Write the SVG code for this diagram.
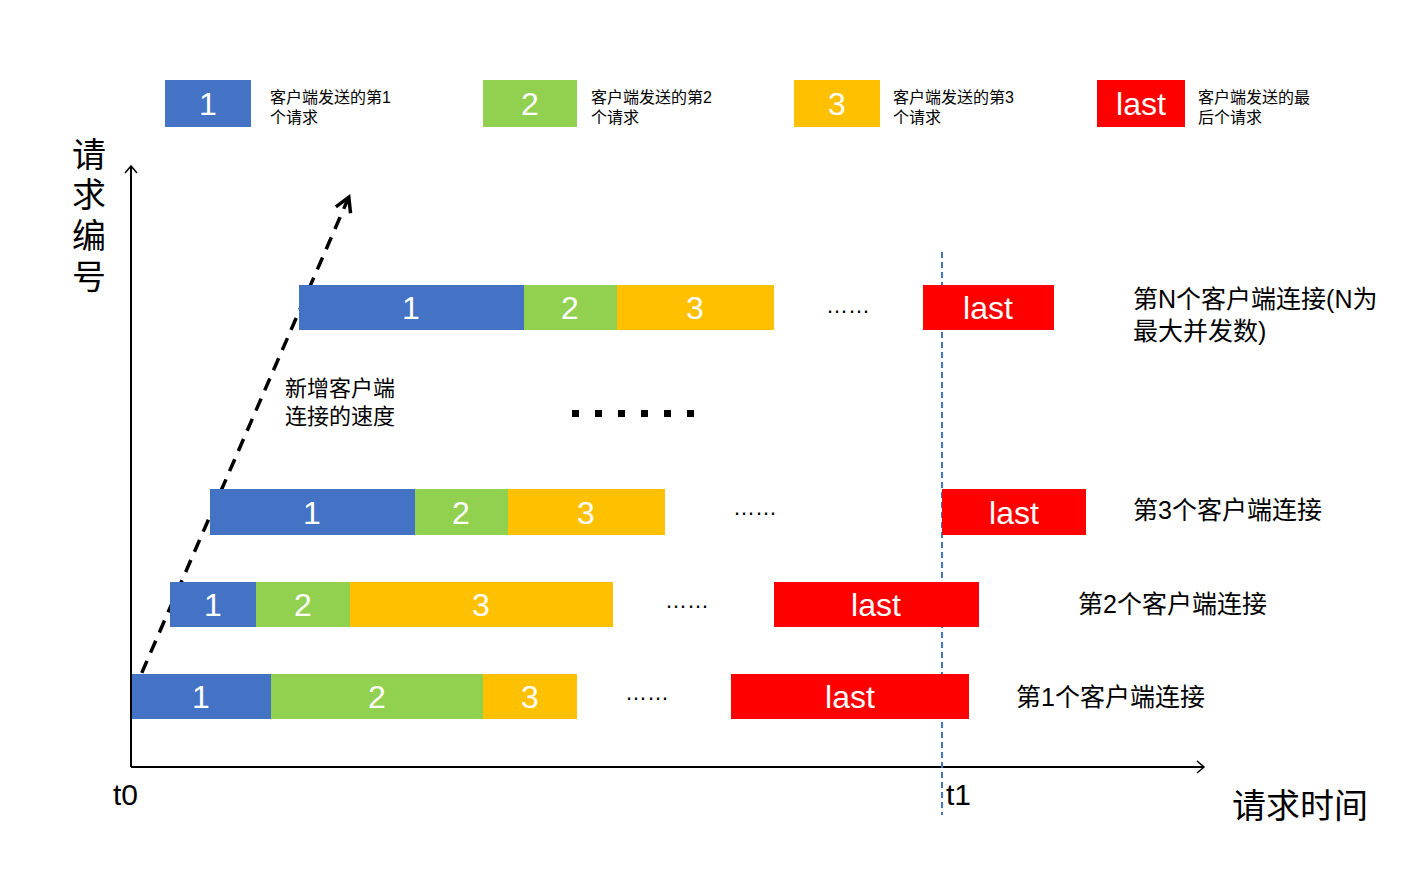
<svg xmlns="http://www.w3.org/2000/svg" width="1425" height="872" viewBox="0 0 1425 872">
<style>
text{font-family:"Liberation Sans","Noto Sans CJK SC",sans-serif;fill:#000}
.b{fill:#4472C4}.g{fill:#92D050}.y{fill:#FFC000}.r{fill:#FF0000}
.w{fill:#fff;font-size:32px;text-anchor:middle}
.lg{font-size:16px}.lab{font-size:25px}.dt{font-size:22px}
</style>
<defs>
<marker id="oa" markerWidth="16" markerHeight="16" refX="8" refY="8" orient="auto" markerUnits="userSpaceOnUse"><path d="M1,2 L8,8 L1,14" fill="none" stroke="#000" stroke-width="1.5"/></marker>
<marker id="da" markerWidth="22" markerHeight="22" refX="14" refY="11" orient="auto" markerUnits="userSpaceOnUse"><path d="M2,3 L16,11 L2,19" fill="none" stroke="#000" stroke-width="3.5"/></marker>
</defs>
<rect width="1425" height="872" fill="#fff"/>
<g id="legend">
<rect class="b" x="165" y="80" width="86" height="47"/><text class="w" x="208" y="115">1</text>
<text class="lg" x="270" y="103">客户端发送的第1</text><text class="lg" x="270" y="123">个请求</text>
<rect class="g" x="483" y="80" width="94" height="47"/><text class="w" x="530" y="115">2</text>
<text class="lg" x="591" y="103">客户端发送的第2</text><text class="lg" x="591" y="123">个请求</text>
<rect class="y" x="794" y="80" width="86" height="47"/><text class="w" x="837" y="115">3</text>
<text class="lg" x="893" y="103">客户端发送的第3</text><text class="lg" x="893" y="123">个请求</text>
<rect class="r" x="1097" y="80" width="88" height="47"/><text class="w" x="1141" y="115">last</text>
<text class="lg" x="1198" y="103">客户端发送的最</text><text class="lg" x="1198" y="123">后个请求</text>
</g>
<g id="connectors">
<line x1="131" y1="767" x2="131" y2="166" stroke="#000" stroke-width="2" marker-end="url(#oa)"/>
<line x1="131" y1="767" x2="1204" y2="767" stroke="#000" stroke-width="2" marker-end="url(#oa)"/>
<line x1="133" y1="693" x2="348" y2="199" stroke="#000" stroke-width="3.5" stroke-dasharray="13,9" marker-end="url(#da)"/>
<line x1="942" y1="252" x2="942" y2="815" stroke="#4472C4" stroke-width="2" stroke-dasharray="6,4"/>
</g>
<g id="axis-labels">
<text font-size="34" x="72" y="167">请</text><text font-size="34" x="72" y="207">求</text><text font-size="34" x="72" y="248">编</text><text font-size="34" x="72" y="289">号</text>
<text font-size="30" x="113" y="805">t0</text><text font-size="30" x="946" y="805">t1</text>
<text font-size="34" x="1232" y="818">请求时间</text>
<text class="dt" x="285" y="396">新增客户端</text><text class="dt" x="285" y="424">连接的速度</text>
</g>
<g id="rowN">
<rect class="b" x="299" y="285" width="225" height="45"/><text class="w" x="411" y="319">1</text>
<rect class="g" x="524" y="285" width="93" height="45"/><text class="w" x="570" y="319">2</text>
<rect class="y" x="617" y="285" width="157" height="45"/><text class="w" x="695" y="319">3</text>
<text class="dt" x="826" y="313">……</text>
<rect class="r" x="923" y="285" width="131" height="45"/><text class="w" x="988" y="319">last</text>
<text class="lab" x="1133" y="308">第N个客户端连接(N为</text><text class="lab" x="1133" y="340">最大并发数)</text>
</g>
<g id="bigdots" fill="#000">
<rect x="572" y="410" width="7" height="7"/><rect x="595" y="410" width="7" height="7"/><rect x="618" y="410" width="7" height="7"/><rect x="641" y="410" width="7" height="7"/><rect x="664" y="410" width="7" height="7"/><rect x="687" y="410" width="7" height="7"/>
</g>
<g id="row3">
<rect class="b" x="210" y="489" width="205" height="46"/><text class="w" x="312" y="524">1</text>
<rect class="g" x="415" y="489" width="93" height="46"/><text class="w" x="461" y="524">2</text>
<rect class="y" x="508" y="489" width="157" height="46"/><text class="w" x="586" y="524">3</text>
<text class="dt" x="733" y="515">……</text>
<rect class="r" x="942" y="489" width="144" height="46"/><text class="w" x="1014" y="524">last</text>
<text class="lab" x="1133" y="519">第3个客户端连接</text>
</g>
<g id="row2">
<rect class="b" x="170" y="582" width="86" height="45"/><text class="w" x="213" y="616">1</text>
<rect class="g" x="256" y="582" width="94" height="45"/><text class="w" x="303" y="616">2</text>
<rect class="y" x="350" y="582" width="263" height="45"/><text class="w" x="481" y="616">3</text>
<text class="dt" x="665" y="608">……</text>
<rect class="r" x="774" y="582" width="205" height="45"/><text class="w" x="876" y="616">last</text>
<text class="lab" x="1078" y="613">第2个客户端连接</text>
</g>
<g id="row1">
<rect class="b" x="132" y="674" width="139" height="45"/><text class="w" x="201" y="708">1</text>
<rect class="g" x="271" y="674" width="212" height="45"/><text class="w" x="377" y="708">2</text>
<rect class="y" x="483" y="674" width="94" height="45"/><text class="w" x="530" y="708">3</text>
<text class="dt" x="625" y="700">……</text>
<rect class="r" x="731" y="674" width="238" height="45"/><text class="w" x="850" y="708">last</text>
<text class="lab" x="1016" y="706">第1个客户端连接</text>
</g>
</svg>
